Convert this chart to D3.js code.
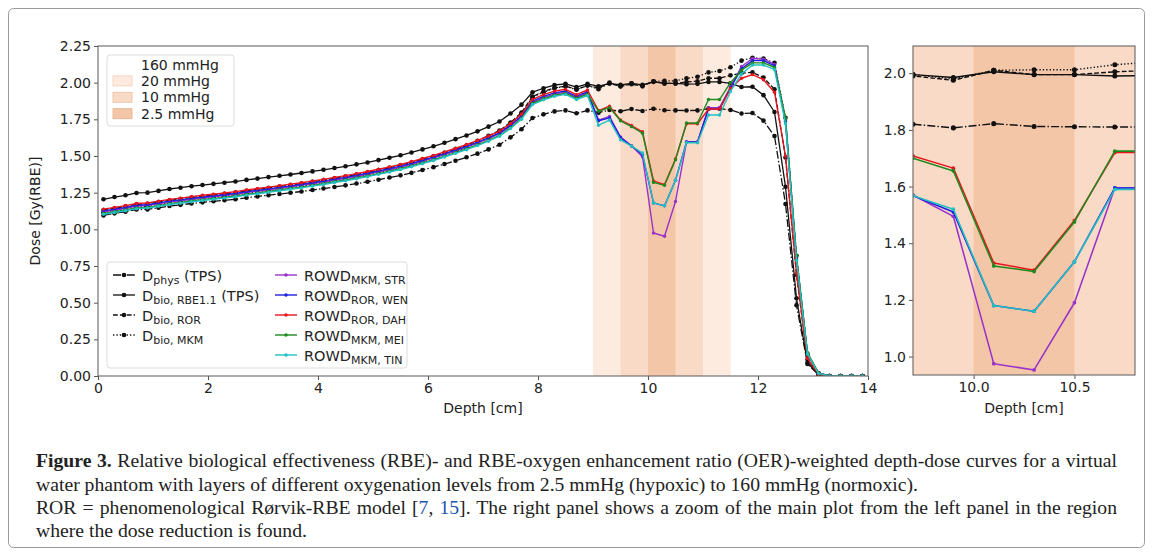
<!DOCTYPE html>
<html><head><meta charset="utf-8">
<script src="https://cdn.jsdelivr.net/npm/d3@7"></script>
<style>
body{margin:0;background:#fff}
svg text{font-family:"DejaVu Sans",sans-serif;fill:#222}
</style>
</head><body><svg id="chart"></svg>
<script>
// ---------- data ----------
const depth = [0.1,0.3,0.5,0.7,0.9,1.1,1.3,1.5,1.7,1.9,2.1,2.3,2.5,2.7,2.9,3.1,3.3,3.5,3.7,3.9,
4.1,4.3,4.5,4.7,4.9,5.1,5.3,5.5,5.7,5.9,6.1,6.3,6.5,6.7,6.9,7.1,7.3,7.5,7.7,7.9,
8.1,8.3,8.5,8.7,8.9,9.1,9.3,9.5,9.7,9.9,10.1,10.3,10.5,10.7,10.9,11.1,11.3,11.5,11.7,11.9,
12.1,12.3,12.5,12.7,12.9,13.1,13.3,13.5,13.7,13.9];

const dPhys = [1.095,1.109,1.120,1.135,1.136,1.147,1.159,1.167,1.176,1.184,1.191,1.198,1.205,1.215,1.224,1.233,1.241,1.249,1.258,1.268,
1.278,1.289,1.300,1.312,1.324,1.338,1.353,1.368,1.385,1.405,1.424,1.445,1.468,1.491,1.516,1.545,1.577,1.627,1.682,1.759,
1.784,1.804,1.811,1.791,1.811,1.795,1.814,1.805,1.820,1.807,1.822,1.812,1.811,1.810,1.811,1.823,1.823,1.814,1.790,1.793,
1.741,1.636,1.173,0.482,0.082,0.009,0,0,0,0];

const dBioRbe11 = [1.205,1.220,1.232,1.248,1.250,1.262,1.275,1.284,1.294,1.302,1.310,1.318,1.326,1.337,1.346,1.356,1.365,1.374,1.384,1.395,
1.406,1.418,1.430,1.443,1.456,1.472,1.488,1.505,1.524,1.545,1.566,1.590,1.615,1.640,1.668,1.700,1.735,1.790,1.850,1.935,
1.962,1.984,1.992,1.970,1.992,1.975,1.995,1.985,1.995,1.985,2.005,1.995,1.995,1.990,1.992,2.005,2.005,1.995,1.970,1.972,
1.915,1.800,1.290,0.530,0.090,0.010,0,0,0,0];

const dBioRor = [1.132,1.144,1.156,1.170,1.174,1.186,1.198,1.207,1.217,1.226,1.234,1.242,1.251,1.262,1.272,1.282,1.292,1.302,1.312,1.324,
1.335,1.348,1.360,1.374,1.388,1.404,1.420,1.437,1.456,1.477,1.498,1.522,1.547,1.572,1.604,1.638,1.674,1.728,1.796,1.905,
1.940,1.965,1.976,1.955,1.980,1.965,1.995,1.975,1.990,1.975,2.010,1.995,1.995,2.005,2.010,2.030,2.030,2.050,2.065,2.070,
2.035,1.955,1.490,0.690,0.110,0.010,0,0,0,0];

const dBioMkm = [1.116,1.128,1.140,1.154,1.158,1.170,1.182,1.191,1.201,1.210,1.218,1.226,1.235,1.246,1.256,1.266,1.276,1.286,1.296,1.308,
1.319,1.332,1.344,1.358,1.372,1.388,1.404,1.421,1.440,1.461,1.482,1.506,1.531,1.556,1.588,1.624,1.662,1.716,1.788,1.900,
1.935,1.962,1.975,1.952,1.982,1.955,2.000,1.975,1.995,1.980,2.010,2.012,2.012,2.030,2.040,2.070,2.080,2.105,2.150,2.170,
2.165,2.135,1.760,0.820,0.150,0.020,0,0,0,0];

const rowdMkmStr = [1.120,1.132,1.144,1.158,1.162,1.174,1.186,1.195,1.205,1.214,1.222,1.230,1.239,1.250,1.260,1.270,1.280,1.290,1.300,1.312,
1.323,1.336,1.348,1.362,1.376,1.392,1.408,1.425,1.444,1.465,1.486,1.510,1.535,1.560,1.588,1.618,1.652,1.704,1.768,1.866,
1.898,1.922,1.935,1.898,1.930,1.745,1.770,1.630,1.570,1.495,0.975,0.953,1.190,1.595,1.595,1.830,1.830,1.970,2.110,2.165,
2.160,2.125,1.740,0.800,0.150,0.020,0,0,0,0];

const rowdRorWen = [1.126,1.138,1.150,1.164,1.168,1.180,1.192,1.201,1.211,1.220,1.228,1.236,1.245,1.256,1.266,1.276,1.286,1.296,1.306,1.318,
1.329,1.342,1.354,1.368,1.382,1.398,1.414,1.431,1.450,1.471,1.492,1.516,1.541,1.566,1.594,1.624,1.658,1.710,1.774,1.874,
1.906,1.930,1.943,1.906,1.938,1.740,1.760,1.625,1.568,1.510,1.180,1.160,1.335,1.595,1.595,1.820,1.820,1.965,2.095,2.150,
2.150,2.115,1.735,0.800,0.150,0.020,0,0,0,0];

const rowdRorDah = [1.138,1.150,1.162,1.176,1.180,1.192,1.204,1.213,1.223,1.232,1.240,1.248,1.257,1.268,1.278,1.288,1.298,1.308,1.318,1.330,
1.341,1.354,1.366,1.380,1.394,1.410,1.426,1.443,1.462,1.483,1.504,1.528,1.553,1.578,1.606,1.636,1.670,1.722,1.786,1.886,
1.918,1.942,1.955,1.918,1.950,1.810,1.840,1.745,1.708,1.665,1.330,1.305,1.480,1.720,1.720,1.820,1.820,1.960,2.030,2.055,
2.020,1.935,1.500,0.700,0.120,0.012,0,0,0,0];

const rowdMkmMei = [1.108,1.120,1.132,1.146,1.150,1.162,1.174,1.183,1.193,1.202,1.210,1.218,1.227,1.238,1.248,1.258,1.268,1.278,1.288,1.300,
1.311,1.324,1.336,1.350,1.364,1.380,1.396,1.413,1.432,1.453,1.474,1.498,1.523,1.548,1.576,1.606,1.640,1.692,1.756,1.858,
1.890,1.914,1.927,1.893,1.922,1.805,1.830,1.740,1.700,1.655,1.320,1.300,1.475,1.725,1.725,1.885,1.885,2.000,2.085,2.135,
2.135,2.105,1.760,0.820,0.160,0.020,0,0,0,0];

const rowdMkmTin = [1.103,1.115,1.127,1.141,1.145,1.157,1.169,1.178,1.188,1.197,1.205,1.213,1.222,1.233,1.243,1.253,1.263,1.273,1.283,1.295,
1.306,1.319,1.331,1.345,1.359,1.375,1.391,1.408,1.427,1.448,1.469,1.493,1.518,1.543,1.571,1.601,1.635,1.687,1.751,1.851,
1.883,1.907,1.920,1.885,1.912,1.710,1.745,1.610,1.568,1.520,1.180,1.160,1.335,1.590,1.590,1.780,1.780,1.940,2.060,2.120,
2.120,2.090,1.720,0.790,0.150,0.018,0,0,0,0];

const oxygenLabels = ["160 mmHg","20 mmHg","10 mmHg","2.5 mmHg"];
const layerStart = [null, 9.0, 9.5, 10.0];
const layerEnd = [null, 11.5, 11.0, 10.5];

const mainXTicks = [0,2,4,6,8,10,12,14];
const mainYTicks = [0,0.25,0.5,0.75,1.0,1.25,1.5,1.75,2.0,2.25];
const zoomXTicks = [10.0,10.5];
const zoomYTicks = [1.0,1.2,1.4,1.6,1.8,2.0];

// ---------- styles ----------
const layerFill = ["none","#fdebdf","#f9dac6","#f3c6a8"];
const layerStroke = ["none","#f3cdb5","#eebf9f","#e5ae8a"];

const series = [
  {values:dPhys,      color:"#111", dash:"8,2.2,1.4,2.2", r:2.3, w:1.3, main:"D", sub:"phys", tail:" (TPS)", col:0},
  {values:dBioRbe11,  color:"#111", dash:null,            r:2.3, w:1.3, main:"D", sub:"bio, RBE1.1", tail:" (TPS)", col:0},
  {values:dBioRor,    color:"#111", dash:"4.8,2.1",       r:2.3, w:1.3, main:"D", sub:"bio, ROR", tail:"", col:0},
  {values:dBioMkm,    color:"#111", dash:"1.3,2.1",       r:2.3, w:1.3, main:"D", sub:"bio, MKM", tail:"", col:0},
  {values:rowdMkmStr, color:"#9932cc", dash:null, r:1.7, w:1.4, main:"ROWD", sub:"MKM, STR", tail:"", col:1},
  {values:rowdRorWen, color:"#1f1fe0", dash:null, r:1.7, w:1.4, main:"ROWD", sub:"ROR, WEN", tail:"", col:1},
  {values:rowdRorDah, color:"#e8141b", dash:null, r:1.7, w:1.4, main:"ROWD", sub:"ROR, DAH", tail:"", col:1},
  {values:rowdMkmMei, color:"#1e8a1e", dash:null, r:1.7, w:1.4, main:"ROWD", sub:"MKM, MEI", tail:"", col:1},
  {values:rowdMkmTin, color:"#22c0c0", dash:null, r:1.7, w:1.4, main:"ROWD", sub:"MKM, TIN", tail:"", col:1}
];

const W = 1153, H = 555;
const svg = d3.select("#chart").attr("width", W).attr("height", H);
svg.append("rect").attr("x",8.5).attr("y",8.5).attr("width",1136).attr("height",539)
  .attr("rx",5).attr("fill","none").attr("stroke","#9a9a9a").attr("stroke-width",1);

function drawPanel(id, x, y, xTicks, yTicks, xFmt, yFmt, rScale) {
  const [L, R] = x.range(), [B, T] = y.range();
  const g = svg.append("g");
  g.append("clipPath").attr("id", id).append("rect")
    .attr("x", L).attr("y", T).attr("width", R - L).attr("height", B - T);
  const inner = g.append("g").attr("clip-path", `url(#${id})`);
  layerStart.forEach((s, i) => {
    if (s === null) return;
    inner.append("rect").attr("x", x(s)).attr("width", x(layerEnd[i]) - x(s))
      .attr("y", T).attr("height", B - T).attr("fill", layerFill[i]);
  });
  const line = d3.line().x(d => x(d[0])).y(d => y(d[1]));
  series.forEach(s => {
    const pts = depth.map((d, i) => [d, s.values[i]]);
    inner.append("path").attr("d", line(pts)).attr("fill", "none")
      .attr("stroke", s.color).attr("stroke-width", s.w * rScale)
      .attr("stroke-dasharray", s.dash).attr("stroke-linejoin","round");
    inner.append("g").selectAll("circle").data(pts).join("circle")
      .attr("cx", d => x(d[0])).attr("cy", d => y(d[1])).attr("r", s.r * rScale)
      .attr("fill", s.color);
  });
  const xa = g.append("g").attr("transform", `translate(0,${B})`)
    .call(d3.axisBottom(x).tickValues(xTicks).tickFormat(xFmt).tickSize(4).tickPadding(3));
  const ya = g.append("g").attr("transform", `translate(${L},0)`)
    .call(d3.axisLeft(y).tickValues(yTicks).tickFormat(yFmt).tickSize(4).tickPadding(3));
  [xa, ya].forEach(a => {
    a.select(".domain").remove();
    a.selectAll(".tick line").attr("stroke", "#555");
    a.selectAll(".tick text").attr("font-size", 14).attr("fill", "#222")
      .style("font-family", '"DejaVu Sans",sans-serif');
  });
  g.append("rect").attr("x", L).attr("y", T).attr("width", R - L).attr("height", B - T)
    .attr("fill", "none").attr("stroke", "#666").attr("stroke-width", 1.1);
  return g;
}

// main panel
const xMain = d3.scaleLinear([0, 14], [98, 868]);
const yMain = d3.scaleLinear([0, 2.25], [376, 46]);
drawPanel("clipMain", xMain, yMain, mainXTicks, mainYTicks, d3.format("d"), d3.format(".2f"), 1);

// zoom panel
const xZoom = d3.scaleLinear([9.7, 10.8], [913, 1135]);
const yZoom = d3.scaleLinear([0.935, 2.096], [375, 46]);
drawPanel("clipZoom", xZoom, yZoom, zoomXTicks, zoomYTicks, d3.format(".1f"), d3.format(".1f"), 1.1);

// axis labels
svg.append("text").attr("x", 483).attr("y", 413).attr("text-anchor", "middle")
  .attr("font-size", 14).text("Depth [cm]");
svg.append("text").attr("x", 1024).attr("y", 413).attr("text-anchor", "middle")
  .attr("font-size", 14).text("Depth [cm]");
svg.append("text").attr("transform", "translate(40,211) rotate(-90)").attr("text-anchor", "middle")
  .attr("font-size", 14).text("Dose [Gy(RBE)]");

// legend 1 (oxygen layers)
const lg1 = svg.append("g");
lg1.append("rect").attr("x", 107).attr("y", 55).attr("width", 127).attr("height", 71).attr("rx", 3)
  .attr("fill", "#fff").attr("fill-opacity", 0.85).attr("stroke", "#dcdcdc");
oxygenLabels.forEach((lab, i) => {
  const cy = 64.5 + i * 16.4;
  if (layerStart[i] !== null) {
    lg1.append("rect").attr("x", 113).attr("y", cy - 5).attr("width", 19).attr("height", 10)
      .attr("fill", layerFill[i]).attr("stroke", layerStroke[i]).attr("stroke-width", 0.8);
  }
  lg1.append("text").attr("x", 141).attr("y", cy + 5).attr("font-size", 14).text(lab);
});

// legend 2 (curves)
const lg2 = svg.append("g");
lg2.append("rect").attr("x", 107).attr("y", 262).attr("width", 300).attr("height", 106).attr("rx", 3)
  .attr("fill", "#fff").attr("fill-opacity", 0.85).attr("stroke", "#dcdcdc");
const colCount = [0, 0];
series.forEach(s => {
  const row = colCount[s.col]++;
  const cy = 275 + row * 20;
  const hx = s.col === 0 ? 113 : 275;
  const tx = s.col === 0 ? 142 : 304;
  lg2.append("line").attr("x1", hx).attr("x2", hx + 22).attr("y1", cy).attr("y2", cy)
    .attr("stroke", s.color).attr("stroke-width", s.w).attr("stroke-dasharray", s.dash);
  lg2.append("circle").attr("cx", hx + 11).attr("cy", cy).attr("r", s.r).attr("fill", s.color);
  const t = lg2.append("text").attr("x", tx).attr("y", cy + 5.5).attr("font-size", 14.5);
  t.append("tspan").text(s.main);
  t.append("tspan").attr("font-size", 11).attr("dy", 3).text(s.sub);
  if (s.tail) t.append("tspan").attr("dy", -3).text(s.tail);
});

// caption
const serif = '"Liberation Serif","Times New Roman",serif';
const cap = svg.append("g");
const capLines = [
  [{t:"Figure 3.", b:true},{t:" Relative biological effectiveness (RBE)- and RBE-oxygen enhancement ratio (OER)-weighted depth-dose curves for a virtual"}],
  [{t:"water phantom with layers of different oxygenation levels from 2.5 mmHg (hypoxic) to 160 mmHg (normoxic)."}],
  [{t:"ROR = phenomenological Rørvik-RBE model ["},{t:"7", c:"#1a56b0"},{t:", "},{t:"15", c:"#1a56b0"},{t:"]. The right panel shows a zoom of the main plot from the left panel in the region"}],
  [{t:"where the dose reduction is found."}]
];
const capY = [467, 490.5, 513.5, 537];
const capJustify = [true, false, true, false];
const capEls = capLines.map((parts, i) => {
  const t = cap.append("text").attr("x", 36).attr("y", capY[i]).attr("font-size", 16)
    .style("font-family", serif).attr("xml:space","preserve");
  parts.forEach(p => {
    const sp = t.append("tspan").text(p.t).style("font-family", serif);
    if (p.b) sp.attr("font-weight", "bold");
    if (p.c) sp.style("fill", p.c);
  });
  return t;
});
// fit font size on the first (justified) line, then justify lines 1 & 3
const w1 = capEls[0].node().getComputedTextLength();
const fs = 16 * 1072 / w1;
capEls.forEach(t => t.attr("font-size", fs));
capEls.forEach((t, i) => {
  if (!capJustify[i]) return;
  const w = t.node().getComputedTextLength();
  const txt = capLines[i].map(p => p.t).join("");
  const nSp = (txt.match(/ /g) || []).length;
  t.attr("word-spacing", (1081 - w) / nSp);
});
</script>
</body></html>
